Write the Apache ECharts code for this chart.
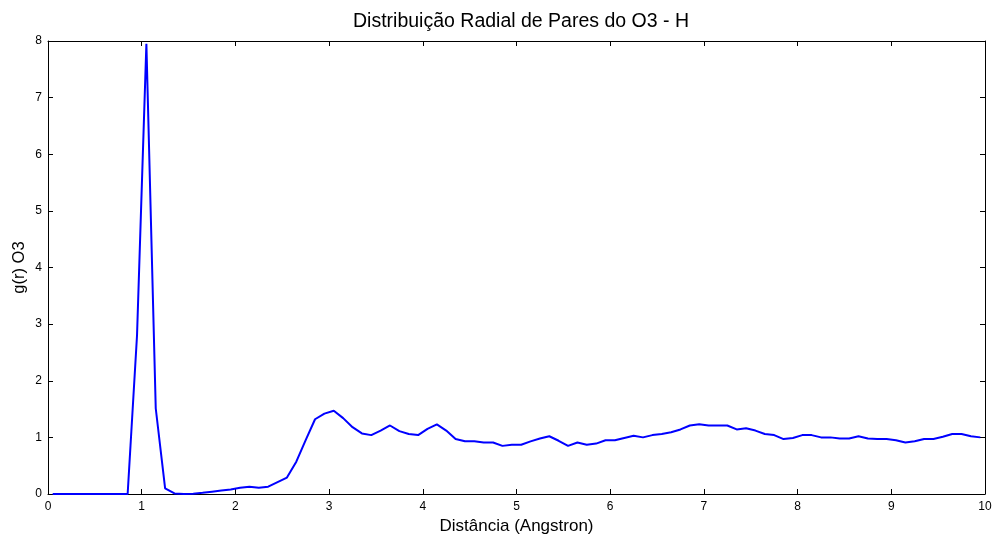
<!DOCTYPE html>
<html>
<head>
<meta charset="utf-8">
<script src="https://cdn.jsdelivr.net/npm/echarts@6/dist/echarts.min.js"></script>
<style>
  html, body { margin: 0; padding: 0; background: #fff; }
  #chart { width: 995px; height: 537px; }
</style>
</head>
<body>
<div id="chart"></div>
<script>
// distância (Å), passo 0.1 começando em 0.05
const distancia = []
for (let i = 0; i < 100; i++) distancia.push(+(0.05 + 0.1 * i).toFixed(2))

const gr = [
  0, 0, 0, 0, 0, 0, 0, 0, 0, 2.8,
  7.95, 1.51, 0.10, 0.01, 0.0, 0.005, 0.02, 0.04, 0.06, 0.08,
  0.11, 0.13, 0.11, 0.13, 0.21, 0.29, 0.57, 0.95, 1.32, 1.42,
  1.47, 1.34, 1.18, 1.07, 1.04, 1.12, 1.21, 1.11, 1.06, 1.04,
  1.15, 1.23, 1.12, 0.97, 0.93, 0.93, 0.91, 0.91, 0.85, 0.87,
  0.87, 0.93, 0.98, 1.02, 0.94, 0.85, 0.91, 0.87, 0.89, 0.95,
  0.95, 0.99, 1.03, 1.00, 1.04, 1.06, 1.09, 1.14, 1.21, 1.23,
  1.21, 1.21, 1.21, 1.14, 1.16, 1.12, 1.06, 1.04, 0.97, 0.99,
  1.04, 1.04, 1.00, 1.00, 0.98, 0.98, 1.02, 0.98, 0.97, 0.97,
  0.95, 0.91, 0.93, 0.97, 0.97, 1.01, 1.06, 1.06, 1.02, 1.00
]

const xTicks = [0, 1, 2, 3, 4, 5, 6, 7, 8, 9, 10]
const yTicks = [0, 1, 2, 3, 4, 5, 6, 7, 8]

const font = 'Liberation Sans, Arial, sans-serif'
const tick = { show: true, inside: true, length: 5, lineStyle: { color: '#000' } }
const line = { show: true, onZero: false, lineStyle: { color: '#000', width: 1 } }

const chart = echarts.init(document.getElementById('chart'))
chart.setOption({
  animation: false,
  backgroundColor: '#fff',
  title: {
    text: 'Distribuição Radial de Pares do O3 - H',
    left: 516, top: 7, textAlign: 'center',
    textStyle: { fontFamily: font, fontSize: 19.5, fontWeight: 'normal', color: '#000' }
  },
  grid: { left: 48, right: 10, top: 41, bottom: 43, outerBoundsMode: 'none' },
  xAxis: [
    {
      type: 'value', min: xTicks[0], max: xTicks[xTicks.length - 1], interval: 1,
      name: 'Distância (Angstron)', nameLocation: 'middle', nameGap: 24,
      nameTextStyle: { fontFamily: font, fontSize: 17, color: '#000' },
      axisLine: line, axisTick: tick, splitLine: { show: false },
      axisLabel: { fontFamily: font, fontSize: 12, color: '#000', margin: 7 }
    },
    {
      type: 'value', position: 'top', min: 0, max: 10, interval: 1,
      axisLine: line, axisTick: tick, splitLine: { show: false },
      axisLabel: { show: false }
    }
  ],
  yAxis: [
    {
      type: 'value', min: yTicks[0], max: yTicks[yTicks.length - 1], interval: 1,
      name: 'g(r) O3', nameLocation: 'middle', nameGap: 20, nameMoveOverlap: false,
      nameTextStyle: { fontFamily: font, fontSize: 16.5, color: '#000' },
      axisLine: line, axisTick: tick, splitLine: { show: false },
      axisLabel: { fontFamily: font, fontSize: 12, color: '#000', margin: 6 }
    },
    {
      type: 'value', position: 'right', min: 0, max: 8, interval: 1,
      axisLine: line, axisTick: tick, splitLine: { show: false },
      axisLabel: { show: false }
    }
  ],
  series: [
    {
      type: 'line',
      data: distancia.map((x, i) => [x, gr[i]]),
      showSymbol: false,
      lineStyle: { color: '#0000ff', width: 2 },
      itemStyle: { color: '#0000ff' }
    }
  ]
})
</script>
</body>
</html>
